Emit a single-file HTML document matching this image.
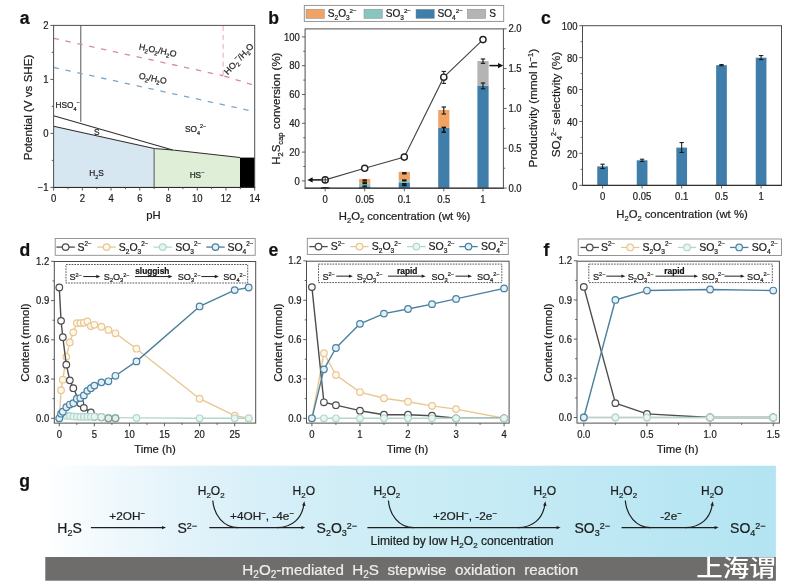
<!DOCTYPE html>
<html lang="en">
<head>
<meta charset="utf-8">
<title>H2O2-mediated H2S stepwise oxidation reaction</title>
<style>
html,body{margin:0;padding:0;background:#fff;}
body{width:786px;height:583px;overflow:hidden;font-family:"Liberation Sans",sans-serif;}
svg{display:block;font-family:"Liberation Sans",sans-serif;}
svg text{stroke:currentColor;stroke-width:0.22px;paint-order:stroke fill;}
.cjk{font-family:"Liberation Sans","Noto Sans CJK SC",sans-serif;}
</style>
</head>
<body>
<svg width="786" height="583" viewBox="0 0 786 583">
<text x="19.70" y="24.10" font-size="17.60" text-anchor="start" font-weight="bold" fill="#111" color="#111"><tspan>a</tspan></text>
<path d="M53.60 126.20 L154.10 148.50 L154.10 187.40 L53.60 187.40 Z" fill="#d7e7f1" stroke="none" stroke-width="1.00"/>
<path d="M154.10 148.50 L172.80 150.00 L240.00 157.60 L240.00 187.40 L154.10 187.40 Z" fill="#dfeed6" stroke="none" stroke-width="1.00"/>
<rect x="240.00" y="157.60" width="14.70" height="29.80" fill="#000" stroke="none" stroke-width="1.00"/>
<path d="M53.60 115.70 L172.80 150.00 L240.00 157.60" fill="none" stroke="#2e2e2e" stroke-width="1.05"/>
<path d="M53.60 126.20 L154.10 148.50 L172.80 150.00" fill="none" stroke="#2e2e2e" stroke-width="1.05"/>
<line x1="154.10" y1="148.50" x2="154.10" y2="187.40" stroke="#555" stroke-width="1.00"/>
<line x1="80.80" y1="25.40" x2="80.80" y2="121.80" stroke="#555" stroke-width="1.00"/>
<line x1="53.60" y1="38.30" x2="223.10" y2="75.75" stroke="#d68c99" stroke-width="1.30" stroke-dasharray="5.4 6.74"/>
<line x1="224.30" y1="76.10" x2="254.70" y2="85.40" stroke="#d68c99" stroke-width="1.30" stroke-dasharray="5.4 6.4"/>
<line x1="53.60" y1="67.40" x2="254.70" y2="111.70" stroke="#7ba6c9" stroke-width="1.30" stroke-dasharray="5.4 6.74"/>
<line x1="223.10" y1="26.00" x2="223.10" y2="76.00" stroke="#e6a9b2" stroke-width="1.00" stroke-dasharray="5 3.9"/>
<rect x="53.60" y="25.40" width="201.10" height="162.00" fill="none" stroke="#4e4e4e" stroke-width="1.00"/>
<line x1="53.10" y1="187.50" x2="255.20" y2="187.50" stroke="#2a2a2a" stroke-width="1.00"/>
<line x1="53.60" y1="187.40" x2="53.60" y2="190.60" stroke="#4e4e4e" stroke-width="0.90"/>
<text transform="translate(53.60 201.50) scale(0.950 1)" font-size="10.00" text-anchor="middle" fill="#1c1c1c" color="#1c1c1c">0</text>
<line x1="67.96" y1="187.40" x2="67.96" y2="189.20" stroke="#4e4e4e" stroke-width="0.90"/>
<line x1="82.33" y1="187.40" x2="82.33" y2="190.60" stroke="#4e4e4e" stroke-width="0.90"/>
<text transform="translate(82.33 201.50) scale(0.950 1)" font-size="10.00" text-anchor="middle" fill="#1c1c1c" color="#1c1c1c">2</text>
<line x1="96.69" y1="187.40" x2="96.69" y2="189.20" stroke="#4e4e4e" stroke-width="0.90"/>
<line x1="111.06" y1="187.40" x2="111.06" y2="190.60" stroke="#4e4e4e" stroke-width="0.90"/>
<text transform="translate(111.06 201.50) scale(0.950 1)" font-size="10.00" text-anchor="middle" fill="#1c1c1c" color="#1c1c1c">4</text>
<line x1="125.42" y1="187.40" x2="125.42" y2="189.20" stroke="#4e4e4e" stroke-width="0.90"/>
<line x1="139.79" y1="187.40" x2="139.79" y2="190.60" stroke="#4e4e4e" stroke-width="0.90"/>
<text transform="translate(139.79 201.50) scale(0.950 1)" font-size="10.00" text-anchor="middle" fill="#1c1c1c" color="#1c1c1c">6</text>
<line x1="154.15" y1="187.40" x2="154.15" y2="189.20" stroke="#4e4e4e" stroke-width="0.90"/>
<line x1="168.51" y1="187.40" x2="168.51" y2="190.60" stroke="#4e4e4e" stroke-width="0.90"/>
<text transform="translate(168.51 201.50) scale(0.950 1)" font-size="10.00" text-anchor="middle" fill="#1c1c1c" color="#1c1c1c">8</text>
<line x1="182.88" y1="187.40" x2="182.88" y2="189.20" stroke="#4e4e4e" stroke-width="0.90"/>
<line x1="197.24" y1="187.40" x2="197.24" y2="190.60" stroke="#4e4e4e" stroke-width="0.90"/>
<text transform="translate(197.24 201.50) scale(0.950 1)" font-size="10.00" text-anchor="middle" fill="#1c1c1c" color="#1c1c1c">10</text>
<line x1="211.61" y1="187.40" x2="211.61" y2="189.20" stroke="#4e4e4e" stroke-width="0.90"/>
<line x1="225.97" y1="187.40" x2="225.97" y2="190.60" stroke="#4e4e4e" stroke-width="0.90"/>
<text transform="translate(225.97 201.50) scale(0.950 1)" font-size="10.00" text-anchor="middle" fill="#1c1c1c" color="#1c1c1c">12</text>
<line x1="240.34" y1="187.40" x2="240.34" y2="189.20" stroke="#4e4e4e" stroke-width="0.90"/>
<line x1="254.70" y1="187.40" x2="254.70" y2="190.60" stroke="#4e4e4e" stroke-width="0.90"/>
<text transform="translate(254.70 201.50) scale(0.950 1)" font-size="10.00" text-anchor="middle" fill="#1c1c1c" color="#1c1c1c">14</text>
<line x1="50.40" y1="187.40" x2="53.60" y2="187.40" stroke="#4e4e4e" stroke-width="0.90"/>
<text transform="translate(48.60 191.00) scale(0.950 1)" font-size="10.00" text-anchor="end" fill="#1c1c1c" color="#1c1c1c">−1</text>
<line x1="51.80" y1="160.40" x2="53.60" y2="160.40" stroke="#4e4e4e" stroke-width="0.90"/>
<line x1="50.40" y1="133.40" x2="53.60" y2="133.40" stroke="#4e4e4e" stroke-width="0.90"/>
<text transform="translate(48.60 137.00) scale(0.950 1)" font-size="10.00" text-anchor="end" fill="#1c1c1c" color="#1c1c1c">0</text>
<line x1="51.80" y1="106.40" x2="53.60" y2="106.40" stroke="#4e4e4e" stroke-width="0.90"/>
<line x1="50.40" y1="79.40" x2="53.60" y2="79.40" stroke="#4e4e4e" stroke-width="0.90"/>
<text transform="translate(48.60 83.00) scale(0.950 1)" font-size="10.00" text-anchor="end" fill="#1c1c1c" color="#1c1c1c">1</text>
<line x1="51.80" y1="52.40" x2="53.60" y2="52.40" stroke="#4e4e4e" stroke-width="0.90"/>
<line x1="50.40" y1="25.40" x2="53.60" y2="25.40" stroke="#4e4e4e" stroke-width="0.90"/>
<text transform="translate(48.60 29.00) scale(0.950 1)" font-size="10.00" text-anchor="end" fill="#1c1c1c" color="#1c1c1c">2</text>
<text x="153.50" y="218.60" font-size="11.30" text-anchor="middle" font-weight="normal" fill="#1c1c1c" color="#1c1c1c"><tspan>pH</tspan></text>
<text x="32.00" y="107.50" font-size="11.60" text-anchor="middle" font-weight="normal" fill="#1c1c1c" color="#1c1c1c" transform="rotate(-90.00 32.00 107.50)"><tspan>Potential (V vs SHE)</tspan></text>
<text x="157.30" y="53.30" font-size="8.70" text-anchor="middle" font-weight="normal" fill="#222" color="#222" transform="rotate(11.50 157.30 53.30)"><tspan>H</tspan><tspan dy="2.26" font-size="5.74">2</tspan><tspan dy="-2.26">O</tspan><tspan dy="2.26" font-size="5.74">2</tspan><tspan dy="-2.26">/H</tspan><tspan dy="2.26" font-size="5.74">2</tspan><tspan dy="-2.26">O</tspan></text>
<text x="152.30" y="81.30" font-size="8.60" text-anchor="middle" font-weight="normal" fill="#222" color="#222" transform="rotate(11.50 152.30 81.30)"><tspan>O</tspan><tspan dy="2.24" font-size="5.68">2</tspan><tspan dy="-2.24">/H</tspan><tspan dy="2.24" font-size="5.68">2</tspan><tspan dy="-2.24">O</tspan></text>
<text x="241.00" y="61.00" font-size="8.80" text-anchor="middle" font-weight="normal" fill="#222" color="#222" transform="rotate(-47.00 241.00 61.00)"><tspan>HO</tspan><tspan dy="2.29" font-size="5.81">2</tspan><tspan dy="-6.34" font-size="5.81">−</tspan><tspan dy="4.05">/H</tspan><tspan dy="2.29" font-size="5.81">2</tspan><tspan dy="-2.29">O</tspan></text>
<text x="55.50" y="108.00" font-size="8.30" text-anchor="start" font-weight="normal" fill="#222" color="#222"><tspan>HSO</tspan><tspan dy="2.66" font-size="5.48">4</tspan><tspan dy="-6.47" font-size="5.48">−</tspan></text>
<text x="96.80" y="135.20" font-size="8.30" text-anchor="middle" font-weight="normal" fill="#222" color="#222"><tspan>S</tspan></text>
<text x="185.00" y="132.00" font-size="8.30" text-anchor="start" font-weight="normal" fill="#222" color="#222"><tspan>SO</tspan><tspan dy="2.66" font-size="5.48">4</tspan><tspan dy="-6.47" font-size="5.48">2−</tspan></text>
<text x="96.50" y="176.00" font-size="8.30" text-anchor="middle" font-weight="normal" fill="#222" color="#222"><tspan>H</tspan><tspan dy="2.66" font-size="5.48">2</tspan><tspan dy="-2.66">S</tspan></text>
<text x="197.00" y="177.50" font-size="8.30" text-anchor="middle" font-weight="normal" fill="#222" color="#222"><tspan>HS</tspan><tspan dy="-3.82" font-size="5.48">−</tspan></text>
<text x="268.30" y="24.30" font-size="17.60" text-anchor="start" font-weight="bold" fill="#111" color="#111"><tspan>b</tspan></text>
<rect x="304.30" y="5.40" width="199.40" height="16.00" fill="#fff" stroke="#8a8a8a" stroke-width="0.90"/>
<rect x="306.00" y="9.30" width="18.30" height="9.10" fill="#f1a365" stroke="#8a8a8a" stroke-width="0.50"/>
<text x="327.80" y="17.30" font-size="10.10" text-anchor="start" font-weight="normal" fill="#1c1c1c" color="#1c1c1c"><tspan>S</tspan><tspan dy="3.03" font-size="6.46">2</tspan><tspan dy="-3.03">O</tspan><tspan dy="3.03" font-size="6.46">3</tspan><tspan dy="-7.37" font-size="6.26">2−</tspan></text>
<rect x="364.00" y="9.30" width="18.30" height="9.10" fill="#86c6bf" stroke="#8a8a8a" stroke-width="0.50"/>
<text x="385.70" y="17.30" font-size="10.10" text-anchor="start" font-weight="normal" fill="#1c1c1c" color="#1c1c1c"><tspan>SO</tspan><tspan dy="3.03" font-size="6.46">3</tspan><tspan dy="-7.37" font-size="6.26">2−</tspan></text>
<rect x="416.00" y="9.30" width="18.30" height="9.10" fill="#3f7dab" stroke="#8a8a8a" stroke-width="0.50"/>
<text x="437.50" y="17.30" font-size="10.10" text-anchor="start" font-weight="normal" fill="#1c1c1c" color="#1c1c1c"><tspan>SO</tspan><tspan dy="3.03" font-size="6.46">4</tspan><tspan dy="-7.37" font-size="6.26">2−</tspan></text>
<rect x="467.40" y="9.30" width="18.30" height="9.10" fill="#b4b4b4" stroke="#8a8a8a" stroke-width="0.50"/>
<text x="489.30" y="17.30" font-size="10.10" text-anchor="start" font-weight="normal" fill="#1c1c1c" color="#1c1c1c"><tspan>S</tspan></text>
<rect x="359.10" y="186.40" width="11.20" height="1.70" fill="#3f7dab" stroke="none" stroke-width="1.00"/>
<rect x="359.10" y="183.30" width="11.20" height="3.10" fill="#86c6bf" stroke="none" stroke-width="1.00"/>
<rect x="359.10" y="178.90" width="11.20" height="4.40" fill="#f1a365" stroke="none" stroke-width="1.00"/>
<rect x="398.70" y="183.00" width="11.20" height="5.10" fill="#3f7dab" stroke="none" stroke-width="1.00"/>
<rect x="398.70" y="180.50" width="11.20" height="2.50" fill="#86c6bf" stroke="none" stroke-width="1.00"/>
<rect x="398.70" y="171.80" width="11.20" height="8.70" fill="#f1a365" stroke="none" stroke-width="1.00"/>
<rect x="438.20" y="127.80" width="11.20" height="60.30" fill="#3f7dab" stroke="none" stroke-width="1.00"/>
<rect x="438.20" y="110.00" width="11.20" height="17.80" fill="#f1a365" stroke="none" stroke-width="1.00"/>
<rect x="477.40" y="85.60" width="11.20" height="102.50" fill="#3f7dab" stroke="none" stroke-width="1.00"/>
<rect x="477.40" y="61.00" width="11.20" height="24.60" fill="#b4b4b4" stroke="none" stroke-width="1.00"/>
<ellipse cx="325.20" cy="188.00" rx="4.6" ry="1.1" fill="#111"/>
<line x1="364.70" y1="180.00" x2="364.70" y2="181.00" stroke="#111" stroke-width="1.30"/>
<line x1="362.50" y1="180.00" x2="366.90" y2="180.00" stroke="#111" stroke-width="1.30"/>
<line x1="362.50" y1="181.00" x2="366.90" y2="181.00" stroke="#111" stroke-width="1.30"/>
<line x1="364.70" y1="182.80" x2="364.70" y2="183.60" stroke="#111" stroke-width="1.30"/>
<line x1="362.50" y1="182.80" x2="366.90" y2="182.80" stroke="#111" stroke-width="1.30"/>
<line x1="362.50" y1="183.60" x2="366.90" y2="183.60" stroke="#111" stroke-width="1.30"/>
<line x1="364.70" y1="186.00" x2="364.70" y2="187.00" stroke="#111" stroke-width="1.20"/>
<line x1="362.50" y1="186.00" x2="366.90" y2="186.00" stroke="#111" stroke-width="1.20"/>
<line x1="362.50" y1="187.00" x2="366.90" y2="187.00" stroke="#111" stroke-width="1.20"/>
<line x1="404.30" y1="172.80" x2="404.30" y2="173.80" stroke="#111" stroke-width="1.30"/>
<line x1="402.10" y1="172.80" x2="406.50" y2="172.80" stroke="#111" stroke-width="1.30"/>
<line x1="402.10" y1="173.80" x2="406.50" y2="173.80" stroke="#111" stroke-width="1.30"/>
<line x1="404.30" y1="180.00" x2="404.30" y2="180.80" stroke="#111" stroke-width="1.30"/>
<line x1="402.10" y1="180.00" x2="406.50" y2="180.00" stroke="#111" stroke-width="1.30"/>
<line x1="402.10" y1="180.80" x2="406.50" y2="180.80" stroke="#111" stroke-width="1.30"/>
<line x1="404.30" y1="183.80" x2="404.30" y2="185.40" stroke="#111" stroke-width="1.60"/>
<line x1="402.10" y1="183.80" x2="406.50" y2="183.80" stroke="#111" stroke-width="1.60"/>
<line x1="402.10" y1="185.40" x2="406.50" y2="185.40" stroke="#111" stroke-width="1.60"/>
<line x1="443.80" y1="107.00" x2="443.80" y2="114.00" stroke="#111" stroke-width="1.10"/>
<line x1="441.60" y1="107.00" x2="446.00" y2="107.00" stroke="#111" stroke-width="1.10"/>
<line x1="441.60" y1="114.00" x2="446.00" y2="114.00" stroke="#111" stroke-width="1.10"/>
<line x1="443.80" y1="127.40" x2="443.80" y2="132.20" stroke="#111" stroke-width="1.50"/>
<line x1="441.60" y1="127.40" x2="446.00" y2="127.40" stroke="#111" stroke-width="1.50"/>
<line x1="441.60" y1="132.20" x2="446.00" y2="132.20" stroke="#111" stroke-width="1.50"/>
<line x1="483.00" y1="59.00" x2="483.00" y2="63.30" stroke="#111" stroke-width="1.10"/>
<line x1="480.80" y1="59.00" x2="485.20" y2="59.00" stroke="#111" stroke-width="1.10"/>
<line x1="480.80" y1="63.30" x2="485.20" y2="63.30" stroke="#111" stroke-width="1.10"/>
<line x1="483.00" y1="83.00" x2="483.00" y2="88.80" stroke="#111" stroke-width="1.10"/>
<line x1="480.80" y1="83.00" x2="485.20" y2="83.00" stroke="#111" stroke-width="1.10"/>
<line x1="480.80" y1="88.80" x2="485.20" y2="88.80" stroke="#111" stroke-width="1.10"/>
<path d="M325.20 179.90 L364.70 168.30 L404.30 157.10 L443.80 77.20 L483.00 39.60" fill="none" stroke="#444" stroke-width="1.10"/>
<line x1="443.80" y1="71.40" x2="443.80" y2="83.40" stroke="#111" stroke-width="1.00"/>
<line x1="441.60" y1="71.40" x2="446.00" y2="71.40" stroke="#111" stroke-width="1.00"/>
<line x1="441.60" y1="83.40" x2="446.00" y2="83.40" stroke="#111" stroke-width="1.00"/>
<line x1="483.00" y1="37.60" x2="483.00" y2="41.60" stroke="#111" stroke-width="1.00"/>
<line x1="480.80" y1="37.60" x2="485.20" y2="37.60" stroke="#111" stroke-width="1.00"/>
<line x1="480.80" y1="41.60" x2="485.20" y2="41.60" stroke="#111" stroke-width="1.00"/>
<circle cx="325.20" cy="179.90" r="3.10" fill="#fff" stroke="#222" stroke-width="1.40"/>
<circle cx="364.70" cy="168.30" r="3.10" fill="#fff" stroke="#222" stroke-width="1.40"/>
<circle cx="404.30" cy="157.10" r="3.10" fill="#fff" stroke="#222" stroke-width="1.40"/>
<circle cx="443.80" cy="77.20" r="3.10" fill="#fff" stroke="#222" stroke-width="1.40"/>
<circle cx="483.00" cy="39.60" r="3.10" fill="#fff" stroke="#222" stroke-width="1.40"/>
<line x1="322.20" y1="179.90" x2="328.20" y2="179.90" stroke="#222" stroke-width="0.90"/>
<line x1="325.20" y1="177.00" x2="325.20" y2="183.00" stroke="#222" stroke-width="0.90"/>
<line x1="311.50" y1="179.90" x2="321.70" y2="179.90" stroke="#111" stroke-width="1.50"/>
<path d="M307.40 179.90 L312.60 177.20 L312.60 182.60 Z" fill="#111" stroke="none" stroke-width="1.00"/>
<line x1="489.40" y1="65.60" x2="499.40" y2="65.60" stroke="#111" stroke-width="1.50"/>
<path d="M503.20 65.60 L498.00 62.90 L498.00 68.30 Z" fill="#111" stroke="none" stroke-width="1.00"/>
<rect x="305.10" y="28.90" width="198.30" height="159.20" fill="none" stroke="#4e4e4e" stroke-width="1.00"/>
<line x1="304.60" y1="188.20" x2="503.90" y2="188.20" stroke="#2a2a2a" stroke-width="1.00"/>
<line x1="301.90" y1="180.90" x2="305.10" y2="180.90" stroke="#4e4e4e" stroke-width="0.90"/>
<text transform="translate(299.90 184.50) scale(0.950 1)" font-size="10.00" text-anchor="end" fill="#1c1c1c" color="#1c1c1c">0</text>
<line x1="303.30" y1="166.50" x2="305.10" y2="166.50" stroke="#4e4e4e" stroke-width="0.90"/>
<line x1="301.90" y1="152.10" x2="305.10" y2="152.10" stroke="#4e4e4e" stroke-width="0.90"/>
<text transform="translate(299.90 155.70) scale(0.950 1)" font-size="10.00" text-anchor="end" fill="#1c1c1c" color="#1c1c1c">20</text>
<line x1="303.30" y1="137.70" x2="305.10" y2="137.70" stroke="#4e4e4e" stroke-width="0.90"/>
<line x1="301.90" y1="123.30" x2="305.10" y2="123.30" stroke="#4e4e4e" stroke-width="0.90"/>
<text transform="translate(299.90 126.90) scale(0.950 1)" font-size="10.00" text-anchor="end" fill="#1c1c1c" color="#1c1c1c">40</text>
<line x1="303.30" y1="108.90" x2="305.10" y2="108.90" stroke="#4e4e4e" stroke-width="0.90"/>
<line x1="301.90" y1="94.50" x2="305.10" y2="94.50" stroke="#4e4e4e" stroke-width="0.90"/>
<text transform="translate(299.90 98.10) scale(0.950 1)" font-size="10.00" text-anchor="end" fill="#1c1c1c" color="#1c1c1c">60</text>
<line x1="303.30" y1="80.10" x2="305.10" y2="80.10" stroke="#4e4e4e" stroke-width="0.90"/>
<line x1="301.90" y1="65.70" x2="305.10" y2="65.70" stroke="#4e4e4e" stroke-width="0.90"/>
<text transform="translate(299.90 69.30) scale(0.950 1)" font-size="10.00" text-anchor="end" fill="#1c1c1c" color="#1c1c1c">80</text>
<line x1="303.30" y1="51.30" x2="305.10" y2="51.30" stroke="#4e4e4e" stroke-width="0.90"/>
<line x1="301.90" y1="36.90" x2="305.10" y2="36.90" stroke="#4e4e4e" stroke-width="0.90"/>
<text transform="translate(299.90 40.50) scale(0.950 1)" font-size="10.00" text-anchor="end" fill="#1c1c1c" color="#1c1c1c">100</text>
<line x1="503.40" y1="188.10" x2="506.60" y2="188.10" stroke="#4e4e4e" stroke-width="0.90"/>
<text transform="translate(508.40 191.70) scale(0.950 1)" font-size="10.00" text-anchor="start" fill="#1c1c1c" color="#1c1c1c">0.0</text>
<line x1="503.40" y1="168.19" x2="505.20" y2="168.19" stroke="#4e4e4e" stroke-width="0.90"/>
<line x1="503.40" y1="148.27" x2="506.60" y2="148.27" stroke="#4e4e4e" stroke-width="0.90"/>
<text transform="translate(508.40 151.87) scale(0.950 1)" font-size="10.00" text-anchor="start" fill="#1c1c1c" color="#1c1c1c">0.5</text>
<line x1="503.40" y1="128.36" x2="505.20" y2="128.36" stroke="#4e4e4e" stroke-width="0.90"/>
<line x1="503.40" y1="108.45" x2="506.60" y2="108.45" stroke="#4e4e4e" stroke-width="0.90"/>
<text transform="translate(508.40 112.05) scale(0.950 1)" font-size="10.00" text-anchor="start" fill="#1c1c1c" color="#1c1c1c">1.0</text>
<line x1="503.40" y1="88.54" x2="505.20" y2="88.54" stroke="#4e4e4e" stroke-width="0.90"/>
<line x1="503.40" y1="68.62" x2="506.60" y2="68.62" stroke="#4e4e4e" stroke-width="0.90"/>
<text transform="translate(508.40 72.22) scale(0.950 1)" font-size="10.00" text-anchor="start" fill="#1c1c1c" color="#1c1c1c">1.5</text>
<line x1="503.40" y1="48.71" x2="505.20" y2="48.71" stroke="#4e4e4e" stroke-width="0.90"/>
<line x1="503.40" y1="28.80" x2="506.60" y2="28.80" stroke="#4e4e4e" stroke-width="0.90"/>
<text transform="translate(508.40 32.40) scale(0.950 1)" font-size="10.00" text-anchor="start" fill="#1c1c1c" color="#1c1c1c">2.0</text>
<line x1="325.20" y1="188.10" x2="325.20" y2="191.30" stroke="#4e4e4e" stroke-width="0.90"/>
<text transform="translate(325.20 202.70) scale(0.950 1)" font-size="10.00" text-anchor="middle" fill="#1c1c1c" color="#1c1c1c">0</text>
<line x1="364.70" y1="188.10" x2="364.70" y2="191.30" stroke="#4e4e4e" stroke-width="0.90"/>
<text transform="translate(364.70 202.70) scale(0.950 1)" font-size="10.00" text-anchor="middle" fill="#1c1c1c" color="#1c1c1c">0.05</text>
<line x1="404.30" y1="188.10" x2="404.30" y2="191.30" stroke="#4e4e4e" stroke-width="0.90"/>
<text transform="translate(404.30 202.70) scale(0.950 1)" font-size="10.00" text-anchor="middle" fill="#1c1c1c" color="#1c1c1c">0.1</text>
<line x1="443.80" y1="188.10" x2="443.80" y2="191.30" stroke="#4e4e4e" stroke-width="0.90"/>
<text transform="translate(443.80 202.70) scale(0.950 1)" font-size="10.00" text-anchor="middle" fill="#1c1c1c" color="#1c1c1c">0.5</text>
<line x1="483.00" y1="188.10" x2="483.00" y2="191.30" stroke="#4e4e4e" stroke-width="0.90"/>
<text transform="translate(483.00 202.70) scale(0.950 1)" font-size="10.00" text-anchor="middle" fill="#1c1c1c" color="#1c1c1c">1</text>
<text x="404.50" y="219.60" font-size="11.30" text-anchor="middle" font-weight="normal" fill="#1c1c1c" color="#1c1c1c"><tspan>H</tspan><tspan dy="3.62" font-size="7.46">2</tspan><tspan dy="-3.62">O</tspan><tspan dy="3.62" font-size="7.46">2</tspan><tspan dy="-3.62"> concentration (wt %)</tspan></text>
<text x="280.10" y="108.70" font-size="11.50" text-anchor="middle" font-weight="normal" fill="#1c1c1c" color="#1c1c1c" transform="rotate(-90.00 280.10 108.70)"><tspan>H</tspan><tspan dy="2.53" font-size="7.59">2</tspan><tspan dy="-2.53">S</tspan><tspan dy="2.53" font-size="7.59">cap</tspan><tspan dy="-2.53"> conversion (%)</tspan></text>
<text x="537.50" y="108.10" font-size="11.70" text-anchor="middle" font-weight="normal" fill="#1c1c1c" color="#1c1c1c" transform="rotate(-90.00 537.50 108.10)"><tspan>Productivity (mmol h</tspan><tspan dy="-4.21" font-size="7.72">−1</tspan><tspan dy="4.21">)</tspan></text>
<text x="541.00" y="24.10" font-size="17.60" text-anchor="start" font-weight="bold" fill="#111" color="#111"><tspan>c</tspan></text>
<rect x="597.25" y="166.40" width="10.70" height="18.90" fill="#3f7dab" stroke="none" stroke-width="1.00"/>
<line x1="602.60" y1="164.20" x2="602.60" y2="168.60" stroke="#111" stroke-width="1.00"/>
<line x1="600.40" y1="164.20" x2="604.80" y2="164.20" stroke="#111" stroke-width="1.00"/>
<line x1="600.40" y1="168.60" x2="604.80" y2="168.60" stroke="#111" stroke-width="1.00"/>
<rect x="636.75" y="160.30" width="10.70" height="25.00" fill="#3f7dab" stroke="none" stroke-width="1.00"/>
<line x1="642.10" y1="159.20" x2="642.10" y2="161.40" stroke="#111" stroke-width="1.00"/>
<line x1="639.90" y1="159.20" x2="644.30" y2="159.20" stroke="#111" stroke-width="1.00"/>
<line x1="639.90" y1="161.40" x2="644.30" y2="161.40" stroke="#111" stroke-width="1.00"/>
<rect x="676.35" y="147.60" width="10.70" height="37.70" fill="#3f7dab" stroke="none" stroke-width="1.00"/>
<line x1="681.70" y1="142.60" x2="681.70" y2="152.40" stroke="#111" stroke-width="1.00"/>
<line x1="679.50" y1="142.60" x2="683.90" y2="142.60" stroke="#111" stroke-width="1.00"/>
<line x1="679.50" y1="152.40" x2="683.90" y2="152.40" stroke="#111" stroke-width="1.00"/>
<rect x="716.15" y="65.20" width="10.70" height="120.10" fill="#3f7dab" stroke="none" stroke-width="1.00"/>
<line x1="721.50" y1="64.60" x2="721.50" y2="65.80" stroke="#111" stroke-width="1.00"/>
<line x1="719.30" y1="64.60" x2="723.70" y2="64.60" stroke="#111" stroke-width="1.00"/>
<line x1="719.30" y1="65.80" x2="723.70" y2="65.80" stroke="#111" stroke-width="1.00"/>
<rect x="755.75" y="57.70" width="10.70" height="127.60" fill="#3f7dab" stroke="none" stroke-width="1.00"/>
<line x1="761.10" y1="55.60" x2="761.10" y2="59.60" stroke="#111" stroke-width="1.00"/>
<line x1="758.90" y1="55.60" x2="763.30" y2="55.60" stroke="#111" stroke-width="1.00"/>
<line x1="758.90" y1="59.60" x2="763.30" y2="59.60" stroke="#111" stroke-width="1.00"/>
<rect x="582.50" y="25.70" width="199.00" height="159.60" fill="none" stroke="#4e4e4e" stroke-width="1.00"/>
<line x1="582.00" y1="185.40" x2="782.00" y2="185.40" stroke="#2a2a2a" stroke-width="1.00"/>
<line x1="579.30" y1="185.30" x2="582.50" y2="185.30" stroke="#4e4e4e" stroke-width="0.90"/>
<text transform="translate(577.50 189.50) scale(0.950 1)" font-size="10.00" text-anchor="end" fill="#1c1c1c" color="#1c1c1c">0</text>
<line x1="580.70" y1="169.34" x2="582.50" y2="169.34" stroke="#4e4e4e" stroke-width="0.90"/>
<line x1="579.30" y1="153.38" x2="582.50" y2="153.38" stroke="#4e4e4e" stroke-width="0.90"/>
<text transform="translate(577.50 157.58) scale(0.950 1)" font-size="10.00" text-anchor="end" fill="#1c1c1c" color="#1c1c1c">20</text>
<line x1="580.70" y1="137.42" x2="582.50" y2="137.42" stroke="#4e4e4e" stroke-width="0.90"/>
<line x1="579.30" y1="121.46" x2="582.50" y2="121.46" stroke="#4e4e4e" stroke-width="0.90"/>
<text transform="translate(577.50 125.66) scale(0.950 1)" font-size="10.00" text-anchor="end" fill="#1c1c1c" color="#1c1c1c">40</text>
<line x1="580.70" y1="105.50" x2="582.50" y2="105.50" stroke="#4e4e4e" stroke-width="0.90"/>
<line x1="579.30" y1="89.54" x2="582.50" y2="89.54" stroke="#4e4e4e" stroke-width="0.90"/>
<text transform="translate(577.50 93.74) scale(0.950 1)" font-size="10.00" text-anchor="end" fill="#1c1c1c" color="#1c1c1c">60</text>
<line x1="580.70" y1="73.58" x2="582.50" y2="73.58" stroke="#4e4e4e" stroke-width="0.90"/>
<line x1="579.30" y1="57.62" x2="582.50" y2="57.62" stroke="#4e4e4e" stroke-width="0.90"/>
<text transform="translate(577.50 61.82) scale(0.950 1)" font-size="10.00" text-anchor="end" fill="#1c1c1c" color="#1c1c1c">80</text>
<line x1="580.70" y1="41.66" x2="582.50" y2="41.66" stroke="#4e4e4e" stroke-width="0.90"/>
<line x1="579.30" y1="25.70" x2="582.50" y2="25.70" stroke="#4e4e4e" stroke-width="0.90"/>
<text transform="translate(577.50 29.90) scale(0.950 1)" font-size="10.00" text-anchor="end" fill="#1c1c1c" color="#1c1c1c">100</text>
<line x1="602.60" y1="185.30" x2="602.60" y2="188.50" stroke="#4e4e4e" stroke-width="0.90"/>
<text transform="translate(602.60 200.30) scale(0.950 1)" font-size="10.00" text-anchor="middle" fill="#1c1c1c" color="#1c1c1c">0</text>
<line x1="642.10" y1="185.30" x2="642.10" y2="188.50" stroke="#4e4e4e" stroke-width="0.90"/>
<text transform="translate(642.10 200.30) scale(0.950 1)" font-size="10.00" text-anchor="middle" fill="#1c1c1c" color="#1c1c1c">0.05</text>
<line x1="681.70" y1="185.30" x2="681.70" y2="188.50" stroke="#4e4e4e" stroke-width="0.90"/>
<text transform="translate(681.70 200.30) scale(0.950 1)" font-size="10.00" text-anchor="middle" fill="#1c1c1c" color="#1c1c1c">0.1</text>
<line x1="721.50" y1="185.30" x2="721.50" y2="188.50" stroke="#4e4e4e" stroke-width="0.90"/>
<text transform="translate(721.50 200.30) scale(0.950 1)" font-size="10.00" text-anchor="middle" fill="#1c1c1c" color="#1c1c1c">0.5</text>
<line x1="761.10" y1="185.30" x2="761.10" y2="188.50" stroke="#4e4e4e" stroke-width="0.90"/>
<text transform="translate(761.10 200.30) scale(0.950 1)" font-size="10.00" text-anchor="middle" fill="#1c1c1c" color="#1c1c1c">1</text>
<text x="682.00" y="217.50" font-size="11.30" text-anchor="middle" font-weight="normal" fill="#1c1c1c" color="#1c1c1c"><tspan>H</tspan><tspan dy="3.62" font-size="7.46">2</tspan><tspan dy="-3.62">O</tspan><tspan dy="3.62" font-size="7.46">2</tspan><tspan dy="-3.62"> concentration (wt %)</tspan></text>
<text x="559.60" y="104.60" font-size="11.80" text-anchor="middle" font-weight="normal" fill="#1c1c1c" color="#1c1c1c" transform="rotate(-90.00 559.60 104.60)"><tspan>SO</tspan><tspan dy="2.60" font-size="7.79">4</tspan><tspan dy="-6.61" font-size="7.08">2−</tspan><tspan dy="4.01"> selectivity (%)</tspan></text>
<text x="19.50" y="256.30" font-size="17.60" text-anchor="start" font-weight="bold" fill="#111" color="#111"><tspan>d</tspan></text>
<rect x="55.20" y="238.50" width="200.00" height="16.80" fill="#fff" stroke="#8a8a8a" stroke-width="0.90"/>
<line x1="56.40" y1="247.10" x2="74.80" y2="247.10" stroke="#4d4d4d" stroke-width="1.30"/>
<circle cx="65.60" cy="247.10" r="3.30" fill="#fbfbfb" stroke="#4d4d4d" stroke-width="1.20"/>
<text x="77.50" y="250.50" font-size="10.50" text-anchor="start" font-weight="normal" fill="#1c1c1c" color="#1c1c1c"><tspan>S</tspan><tspan dy="-4.41" font-size="6.30">2−</tspan></text>
<line x1="97.40" y1="247.10" x2="115.80" y2="247.10" stroke="#e9c792" stroke-width="1.30"/>
<circle cx="106.60" cy="247.10" r="3.30" fill="#fef7ec" stroke="#e9c792" stroke-width="1.20"/>
<text x="118.70" y="250.50" font-size="10.50" text-anchor="start" font-weight="normal" fill="#1c1c1c" color="#1c1c1c"><tspan>S</tspan><tspan dy="3.15" font-size="6.62">2</tspan><tspan dy="-3.15">O</tspan><tspan dy="3.15" font-size="6.62">3</tspan><tspan dy="-7.56" font-size="6.30">2−</tspan></text>
<line x1="153.50" y1="247.10" x2="171.90" y2="247.10" stroke="#b2d7d0" stroke-width="1.30"/>
<circle cx="162.70" cy="247.10" r="3.30" fill="#e9f5f1" stroke="#b2d7d0" stroke-width="1.20"/>
<text x="175.20" y="250.50" font-size="10.50" text-anchor="start" font-weight="normal" fill="#1c1c1c" color="#1c1c1c"><tspan>SO</tspan><tspan dy="3.15" font-size="6.62">3</tspan><tspan dy="-7.56" font-size="6.30">2−</tspan></text>
<line x1="206.30" y1="247.10" x2="224.70" y2="247.10" stroke="#4b809f" stroke-width="1.30"/>
<circle cx="215.50" cy="247.10" r="3.30" fill="#e2f1f8" stroke="#4b809f" stroke-width="1.20"/>
<text x="227.40" y="250.50" font-size="10.50" text-anchor="start" font-weight="normal" fill="#1c1c1c" color="#1c1c1c"><tspan>SO</tspan><tspan dy="3.15" font-size="6.62">4</tspan><tspan dy="-7.56" font-size="6.30">2−</tspan></text>
<rect x="54.30" y="261.50" width="201.40" height="161.60" fill="#fff" stroke="#4e4e4e" stroke-width="1.00"/>
<rect x="66.00" y="264.50" width="181.70" height="18.50" fill="none" stroke="#3a3a3a" stroke-width="0.85" stroke-dasharray="1.7 1.1"/>
<text x="69.40" y="280.00" font-size="9.10" text-anchor="start" font-weight="normal" fill="#1c1c1c" color="#1c1c1c"><tspan>S</tspan><tspan dy="-3.37" font-size="5.64">2−</tspan></text>
<line x1="83.30" y1="276.55" x2="96.80" y2="276.55" stroke="#222" stroke-width="1.00"/>
<path d="M100.30 276.55 L96.30 274.85 L96.30 278.25 Z" fill="#222" stroke="none" stroke-width="1.00"/>
<text x="103.80" y="280.00" font-size="9.10" text-anchor="start" font-weight="normal" fill="#1c1c1c" color="#1c1c1c"><tspan>S</tspan><tspan dy="2.00" font-size="5.64">2</tspan><tspan dy="-2.00">O</tspan><tspan dy="2.00" font-size="5.64">3</tspan><tspan dy="-5.37" font-size="5.64">2−</tspan></text>
<line x1="135.00" y1="276.55" x2="168.90" y2="276.55" stroke="#222" stroke-width="1.00"/>
<path d="M172.40 276.55 L168.40 274.85 L168.40 278.25 Z" fill="#222" stroke="none" stroke-width="1.00"/>
<text x="152.30" y="274.15" font-size="8.30" text-anchor="middle" font-weight="bold" fill="#111" color="#111"><tspan>sluggish</tspan></text>
<text x="177.80" y="280.00" font-size="9.10" text-anchor="start" font-weight="normal" fill="#1c1c1c" color="#1c1c1c"><tspan>SO</tspan><tspan dy="2.00" font-size="5.64">3</tspan><tspan dy="-5.37" font-size="5.64">2−</tspan></text>
<line x1="201.30" y1="276.55" x2="215.30" y2="276.55" stroke="#222" stroke-width="1.00"/>
<path d="M218.80 276.55 L214.80 274.85 L214.80 278.25 Z" fill="#222" stroke="none" stroke-width="1.00"/>
<text x="223.30" y="280.00" font-size="9.10" text-anchor="start" font-weight="normal" fill="#1c1c1c" color="#1c1c1c"><tspan>SO</tspan><tspan dy="2.00" font-size="5.64">4</tspan><tspan dy="-5.37" font-size="5.64">2−</tspan></text>
<path d="M59.30 418.30 L61.05 390.18 L62.81 379.71 L66.31 356.82 L69.82 342.44 L73.33 332.36 L76.84 323.08 L80.34 323.08 L83.85 322.82 L87.36 321.51 L90.87 326.09 L94.38 324.78 L101.39 326.74 L108.41 329.88 L115.42 333.28 L136.46 348.71 L199.60 398.68 L234.68 415.68 L248.70 418.30" fill="none" stroke="#e9c792" stroke-width="1.40" stroke-linejoin="round"/>
<circle cx="59.30" cy="418.30" r="3.30" fill="#fef7ec" stroke="#e9c792" stroke-width="1.20"/>
<circle cx="61.05" cy="390.18" r="3.30" fill="#fef7ec" stroke="#e9c792" stroke-width="1.20"/>
<circle cx="62.81" cy="379.71" r="3.30" fill="#fef7ec" stroke="#e9c792" stroke-width="1.20"/>
<circle cx="66.31" cy="356.82" r="3.30" fill="#fef7ec" stroke="#e9c792" stroke-width="1.20"/>
<circle cx="69.82" cy="342.44" r="3.30" fill="#fef7ec" stroke="#e9c792" stroke-width="1.20"/>
<circle cx="73.33" cy="332.36" r="3.30" fill="#fef7ec" stroke="#e9c792" stroke-width="1.20"/>
<circle cx="76.84" cy="323.08" r="3.30" fill="#fef7ec" stroke="#e9c792" stroke-width="1.20"/>
<circle cx="80.34" cy="323.08" r="3.30" fill="#fef7ec" stroke="#e9c792" stroke-width="1.20"/>
<circle cx="83.85" cy="322.82" r="3.30" fill="#fef7ec" stroke="#e9c792" stroke-width="1.20"/>
<circle cx="87.36" cy="321.51" r="3.30" fill="#fef7ec" stroke="#e9c792" stroke-width="1.20"/>
<circle cx="90.87" cy="326.09" r="3.30" fill="#fef7ec" stroke="#e9c792" stroke-width="1.20"/>
<circle cx="94.38" cy="324.78" r="3.30" fill="#fef7ec" stroke="#e9c792" stroke-width="1.20"/>
<circle cx="101.39" cy="326.74" r="3.30" fill="#fef7ec" stroke="#e9c792" stroke-width="1.20"/>
<circle cx="108.41" cy="329.88" r="3.30" fill="#fef7ec" stroke="#e9c792" stroke-width="1.20"/>
<circle cx="115.42" cy="333.28" r="3.30" fill="#fef7ec" stroke="#e9c792" stroke-width="1.20"/>
<circle cx="136.46" cy="348.71" r="3.30" fill="#fef7ec" stroke="#e9c792" stroke-width="1.20"/>
<circle cx="199.60" cy="398.68" r="3.30" fill="#fef7ec" stroke="#e9c792" stroke-width="1.20"/>
<circle cx="234.68" cy="415.68" r="3.30" fill="#fef7ec" stroke="#e9c792" stroke-width="1.20"/>
<circle cx="248.70" cy="418.30" r="3.30" fill="#fef7ec" stroke="#e9c792" stroke-width="1.20"/>
<path d="M59.30 287.50 L61.05 320.85 L62.81 337.20 L66.31 364.67 L69.82 380.37 L73.33 388.22 L80.34 403.26 L83.85 407.84 L90.87 412.41 L94.38 416.73 L101.39 417.25 L108.41 418.30 L115.42 418.30" fill="none" stroke="#4d4d4d" stroke-width="1.40" stroke-linejoin="round"/>
<circle cx="59.30" cy="287.50" r="3.30" fill="#fbfbfb" stroke="#4d4d4d" stroke-width="1.20"/>
<circle cx="61.05" cy="320.85" r="3.30" fill="#fbfbfb" stroke="#4d4d4d" stroke-width="1.20"/>
<circle cx="62.81" cy="337.20" r="3.30" fill="#fbfbfb" stroke="#4d4d4d" stroke-width="1.20"/>
<circle cx="66.31" cy="364.67" r="3.30" fill="#fbfbfb" stroke="#4d4d4d" stroke-width="1.20"/>
<circle cx="69.82" cy="380.37" r="3.30" fill="#fbfbfb" stroke="#4d4d4d" stroke-width="1.20"/>
<circle cx="73.33" cy="388.22" r="3.30" fill="#fbfbfb" stroke="#4d4d4d" stroke-width="1.20"/>
<circle cx="80.34" cy="403.26" r="3.30" fill="#fbfbfb" stroke="#4d4d4d" stroke-width="1.20"/>
<circle cx="83.85" cy="407.84" r="3.30" fill="#fbfbfb" stroke="#4d4d4d" stroke-width="1.20"/>
<circle cx="90.87" cy="412.41" r="3.30" fill="#fbfbfb" stroke="#4d4d4d" stroke-width="1.20"/>
<circle cx="94.38" cy="416.73" r="3.30" fill="#fbfbfb" stroke="#4d4d4d" stroke-width="1.20"/>
<circle cx="101.39" cy="417.25" r="3.30" fill="#fbfbfb" stroke="#4d4d4d" stroke-width="1.20"/>
<circle cx="108.41" cy="418.30" r="3.30" fill="#fbfbfb" stroke="#4d4d4d" stroke-width="1.20"/>
<circle cx="115.42" cy="418.30" r="3.30" fill="#fbfbfb" stroke="#4d4d4d" stroke-width="1.20"/>
<path d="M59.30 418.30 L66.31 415.68 L69.82 415.95 L73.33 416.47 L76.84 416.73 L80.34 416.73 L83.85 416.73 L87.36 416.73 L90.87 416.73 L94.38 416.73 L101.39 416.99 L108.41 417.65 L115.42 417.65 L136.46 417.91 L199.60 418.30 L234.68 418.30 L248.70 418.30" fill="none" stroke="#b2d7d0" stroke-width="1.40" stroke-linejoin="round"/>
<circle cx="59.30" cy="418.30" r="3.30" fill="#e9f5f1" stroke="#b2d7d0" stroke-width="1.20"/>
<circle cx="66.31" cy="415.68" r="3.30" fill="#e9f5f1" stroke="#b2d7d0" stroke-width="1.20"/>
<circle cx="69.82" cy="415.95" r="3.30" fill="#e9f5f1" stroke="#b2d7d0" stroke-width="1.20"/>
<circle cx="73.33" cy="416.47" r="3.30" fill="#e9f5f1" stroke="#b2d7d0" stroke-width="1.20"/>
<circle cx="76.84" cy="416.73" r="3.30" fill="#e9f5f1" stroke="#b2d7d0" stroke-width="1.20"/>
<circle cx="80.34" cy="416.73" r="3.30" fill="#e9f5f1" stroke="#b2d7d0" stroke-width="1.20"/>
<circle cx="83.85" cy="416.73" r="3.30" fill="#e9f5f1" stroke="#b2d7d0" stroke-width="1.20"/>
<circle cx="87.36" cy="416.73" r="3.30" fill="#e9f5f1" stroke="#b2d7d0" stroke-width="1.20"/>
<circle cx="90.87" cy="416.73" r="3.30" fill="#e9f5f1" stroke="#b2d7d0" stroke-width="1.20"/>
<circle cx="94.38" cy="416.73" r="3.30" fill="#e9f5f1" stroke="#b2d7d0" stroke-width="1.20"/>
<circle cx="101.39" cy="416.99" r="3.30" fill="#e9f5f1" stroke="#b2d7d0" stroke-width="1.20"/>
<circle cx="108.41" cy="417.65" r="3.30" fill="#e9f5f1" stroke="#b2d7d0" stroke-width="1.20"/>
<circle cx="115.42" cy="417.65" r="3.30" fill="#e9f5f1" stroke="#b2d7d0" stroke-width="1.20"/>
<circle cx="136.46" cy="417.91" r="3.30" fill="#e9f5f1" stroke="#b2d7d0" stroke-width="1.20"/>
<circle cx="199.60" cy="418.30" r="3.30" fill="#e9f5f1" stroke="#b2d7d0" stroke-width="1.20"/>
<circle cx="234.68" cy="418.30" r="3.30" fill="#e9f5f1" stroke="#b2d7d0" stroke-width="1.20"/>
<circle cx="248.70" cy="418.30" r="3.30" fill="#e9f5f1" stroke="#b2d7d0" stroke-width="1.20"/>
<path d="M59.30 418.30 L61.05 413.72 L62.81 411.76 L66.31 407.18 L69.82 404.57 L73.33 403.26 L76.84 398.68 L80.34 398.03 L83.85 395.41 L87.36 390.83 L90.87 388.22 L94.38 385.60 L101.39 382.33 L108.41 381.28 L115.42 375.79 L136.46 361.40 L199.60 306.47 L234.68 290.12 L248.70 287.50" fill="none" stroke="#4b809f" stroke-width="1.40" stroke-linejoin="round"/>
<circle cx="59.30" cy="418.30" r="3.30" fill="#e2f1f8" stroke="#4b809f" stroke-width="1.20"/>
<circle cx="61.05" cy="413.72" r="3.30" fill="#e2f1f8" stroke="#4b809f" stroke-width="1.20"/>
<circle cx="62.81" cy="411.76" r="3.30" fill="#e2f1f8" stroke="#4b809f" stroke-width="1.20"/>
<circle cx="66.31" cy="407.18" r="3.30" fill="#e2f1f8" stroke="#4b809f" stroke-width="1.20"/>
<circle cx="69.82" cy="404.57" r="3.30" fill="#e2f1f8" stroke="#4b809f" stroke-width="1.20"/>
<circle cx="73.33" cy="403.26" r="3.30" fill="#e2f1f8" stroke="#4b809f" stroke-width="1.20"/>
<circle cx="76.84" cy="398.68" r="3.30" fill="#e2f1f8" stroke="#4b809f" stroke-width="1.20"/>
<circle cx="80.34" cy="398.03" r="3.30" fill="#e2f1f8" stroke="#4b809f" stroke-width="1.20"/>
<circle cx="83.85" cy="395.41" r="3.30" fill="#e2f1f8" stroke="#4b809f" stroke-width="1.20"/>
<circle cx="87.36" cy="390.83" r="3.30" fill="#e2f1f8" stroke="#4b809f" stroke-width="1.20"/>
<circle cx="90.87" cy="388.22" r="3.30" fill="#e2f1f8" stroke="#4b809f" stroke-width="1.20"/>
<circle cx="94.38" cy="385.60" r="3.30" fill="#e2f1f8" stroke="#4b809f" stroke-width="1.20"/>
<circle cx="101.39" cy="382.33" r="3.30" fill="#e2f1f8" stroke="#4b809f" stroke-width="1.20"/>
<circle cx="108.41" cy="381.28" r="3.30" fill="#e2f1f8" stroke="#4b809f" stroke-width="1.20"/>
<circle cx="115.42" cy="375.79" r="3.30" fill="#e2f1f8" stroke="#4b809f" stroke-width="1.20"/>
<circle cx="136.46" cy="361.40" r="3.30" fill="#e2f1f8" stroke="#4b809f" stroke-width="1.20"/>
<circle cx="199.60" cy="306.47" r="3.30" fill="#e2f1f8" stroke="#4b809f" stroke-width="1.20"/>
<circle cx="234.68" cy="290.12" r="3.30" fill="#e2f1f8" stroke="#4b809f" stroke-width="1.20"/>
<circle cx="248.70" cy="287.50" r="3.30" fill="#e2f1f8" stroke="#4b809f" stroke-width="1.20"/>
<circle cx="108.41" cy="418.30" r="3.30" fill="#e3efec" stroke="#82a09a" stroke-width="1.20"/>
<circle cx="115.42" cy="418.30" r="3.30" fill="#e3efec" stroke="#82a09a" stroke-width="1.20"/>
<line x1="51.10" y1="418.30" x2="54.30" y2="418.30" stroke="#4e4e4e" stroke-width="0.90"/>
<text transform="translate(49.30 421.90) scale(0.950 1)" font-size="10.00" text-anchor="end" fill="#1c1c1c" color="#1c1c1c">0.0</text>
<line x1="52.50" y1="398.68" x2="54.30" y2="398.68" stroke="#4e4e4e" stroke-width="0.90"/>
<line x1="51.10" y1="379.06" x2="54.30" y2="379.06" stroke="#4e4e4e" stroke-width="0.90"/>
<text transform="translate(49.30 382.66) scale(0.950 1)" font-size="10.00" text-anchor="end" fill="#1c1c1c" color="#1c1c1c">0.3</text>
<line x1="52.50" y1="359.44" x2="54.30" y2="359.44" stroke="#4e4e4e" stroke-width="0.90"/>
<line x1="51.10" y1="339.82" x2="54.30" y2="339.82" stroke="#4e4e4e" stroke-width="0.90"/>
<text transform="translate(49.30 343.42) scale(0.950 1)" font-size="10.00" text-anchor="end" fill="#1c1c1c" color="#1c1c1c">0.6</text>
<line x1="52.50" y1="320.20" x2="54.30" y2="320.20" stroke="#4e4e4e" stroke-width="0.90"/>
<line x1="51.10" y1="300.58" x2="54.30" y2="300.58" stroke="#4e4e4e" stroke-width="0.90"/>
<text transform="translate(49.30 304.18) scale(0.950 1)" font-size="10.00" text-anchor="end" fill="#1c1c1c" color="#1c1c1c">0.9</text>
<line x1="52.50" y1="280.96" x2="54.30" y2="280.96" stroke="#4e4e4e" stroke-width="0.90"/>
<line x1="51.10" y1="261.34" x2="54.30" y2="261.34" stroke="#4e4e4e" stroke-width="0.90"/>
<text transform="translate(49.30 264.94) scale(0.950 1)" font-size="10.00" text-anchor="end" fill="#1c1c1c" color="#1c1c1c">1.2</text>
<line x1="59.30" y1="423.10" x2="59.30" y2="426.30" stroke="#4e4e4e" stroke-width="0.90"/>
<text transform="translate(59.30 437.50) scale(0.950 1)" font-size="10.00" text-anchor="middle" fill="#1c1c1c" color="#1c1c1c">0</text>
<line x1="94.38" y1="423.10" x2="94.38" y2="426.30" stroke="#4e4e4e" stroke-width="0.90"/>
<text transform="translate(94.38 437.50) scale(0.950 1)" font-size="10.00" text-anchor="middle" fill="#1c1c1c" color="#1c1c1c">5</text>
<line x1="129.45" y1="423.10" x2="129.45" y2="426.30" stroke="#4e4e4e" stroke-width="0.90"/>
<text transform="translate(129.45 437.50) scale(0.950 1)" font-size="10.00" text-anchor="middle" fill="#1c1c1c" color="#1c1c1c">10</text>
<line x1="164.52" y1="423.10" x2="164.52" y2="426.30" stroke="#4e4e4e" stroke-width="0.90"/>
<text transform="translate(164.52 437.50) scale(0.950 1)" font-size="10.00" text-anchor="middle" fill="#1c1c1c" color="#1c1c1c">15</text>
<line x1="199.60" y1="423.10" x2="199.60" y2="426.30" stroke="#4e4e4e" stroke-width="0.90"/>
<text transform="translate(199.60 437.50) scale(0.950 1)" font-size="10.00" text-anchor="middle" fill="#1c1c1c" color="#1c1c1c">20</text>
<line x1="234.68" y1="423.10" x2="234.68" y2="426.30" stroke="#4e4e4e" stroke-width="0.90"/>
<text transform="translate(234.68 437.50) scale(0.950 1)" font-size="10.00" text-anchor="middle" fill="#1c1c1c" color="#1c1c1c">25</text>
<line x1="76.84" y1="423.10" x2="76.84" y2="424.90" stroke="#4e4e4e" stroke-width="0.90"/>
<line x1="111.91" y1="423.10" x2="111.91" y2="424.90" stroke="#4e4e4e" stroke-width="0.90"/>
<line x1="146.99" y1="423.10" x2="146.99" y2="424.90" stroke="#4e4e4e" stroke-width="0.90"/>
<line x1="182.06" y1="423.10" x2="182.06" y2="424.90" stroke="#4e4e4e" stroke-width="0.90"/>
<line x1="217.14" y1="423.10" x2="217.14" y2="424.90" stroke="#4e4e4e" stroke-width="0.90"/>
<text x="155.00" y="453.00" font-size="11.30" text-anchor="middle" font-weight="normal" fill="#1c1c1c" color="#1c1c1c"><tspan>Time (h)</tspan></text>
<text x="29.00" y="342.60" font-size="11.40" text-anchor="middle" font-weight="normal" fill="#1c1c1c" color="#1c1c1c" transform="rotate(-90.00 29.00 342.60)"><tspan>Content (mmol)</tspan></text>
<text x="268.50" y="256.20" font-size="17.60" text-anchor="start" font-weight="bold" fill="#111" color="#111"><tspan>e</tspan></text>
<rect x="307.30" y="238.30" width="201.00" height="16.20" fill="#fff" stroke="#8a8a8a" stroke-width="0.90"/>
<line x1="309.30" y1="246.60" x2="327.70" y2="246.60" stroke="#4d4d4d" stroke-width="1.30"/>
<circle cx="318.50" cy="246.60" r="3.30" fill="#fbfbfb" stroke="#4d4d4d" stroke-width="1.20"/>
<text x="330.70" y="250.00" font-size="10.50" text-anchor="start" font-weight="normal" fill="#1c1c1c" color="#1c1c1c"><tspan>S</tspan><tspan dy="-4.41" font-size="6.30">2−</tspan></text>
<line x1="350.30" y1="246.60" x2="368.70" y2="246.60" stroke="#e9c792" stroke-width="1.30"/>
<circle cx="359.50" cy="246.60" r="3.30" fill="#fef7ec" stroke="#e9c792" stroke-width="1.20"/>
<text x="371.70" y="250.00" font-size="10.50" text-anchor="start" font-weight="normal" fill="#1c1c1c" color="#1c1c1c"><tspan>S</tspan><tspan dy="3.15" font-size="6.62">2</tspan><tspan dy="-3.15">O</tspan><tspan dy="3.15" font-size="6.62">3</tspan><tspan dy="-7.56" font-size="6.30">2−</tspan></text>
<line x1="407.20" y1="246.60" x2="425.60" y2="246.60" stroke="#b2d7d0" stroke-width="1.30"/>
<circle cx="416.40" cy="246.60" r="3.30" fill="#e9f5f1" stroke="#b2d7d0" stroke-width="1.20"/>
<text x="428.60" y="250.00" font-size="10.50" text-anchor="start" font-weight="normal" fill="#1c1c1c" color="#1c1c1c"><tspan>SO</tspan><tspan dy="3.15" font-size="6.62">3</tspan><tspan dy="-7.56" font-size="6.30">2−</tspan></text>
<line x1="459.30" y1="246.60" x2="477.70" y2="246.60" stroke="#4b809f" stroke-width="1.30"/>
<circle cx="468.50" cy="246.60" r="3.30" fill="#e2f1f8" stroke="#4b809f" stroke-width="1.20"/>
<text x="481.00" y="250.00" font-size="10.50" text-anchor="start" font-weight="normal" fill="#1c1c1c" color="#1c1c1c"><tspan>SO</tspan><tspan dy="3.15" font-size="6.62">4</tspan><tspan dy="-7.56" font-size="6.30">2−</tspan></text>
<rect x="306.50" y="261.20" width="202.60" height="161.90" fill="#fff" stroke="#4e4e4e" stroke-width="1.00"/>
<rect x="318.50" y="264.10" width="183.30" height="18.50" fill="none" stroke="#3a3a3a" stroke-width="0.85" stroke-dasharray="1.7 1.1"/>
<text x="322.40" y="279.60" font-size="9.10" text-anchor="start" font-weight="normal" fill="#1c1c1c" color="#1c1c1c"><tspan>S</tspan><tspan dy="-3.37" font-size="5.64">2−</tspan></text>
<line x1="336.30" y1="276.15" x2="349.40" y2="276.15" stroke="#222" stroke-width="1.00"/>
<path d="M352.90 276.15 L348.90 274.45 L348.90 277.85 Z" fill="#222" stroke="none" stroke-width="1.00"/>
<text x="356.80" y="279.60" font-size="9.10" text-anchor="start" font-weight="normal" fill="#1c1c1c" color="#1c1c1c"><tspan>S</tspan><tspan dy="2.00" font-size="5.64">2</tspan><tspan dy="-2.00">O</tspan><tspan dy="2.00" font-size="5.64">3</tspan><tspan dy="-5.37" font-size="5.64">2−</tspan></text>
<line x1="388.00" y1="276.15" x2="422.20" y2="276.15" stroke="#222" stroke-width="1.00"/>
<path d="M425.70 276.15 L421.70 274.45 L421.70 277.85 Z" fill="#222" stroke="none" stroke-width="1.00"/>
<text x="407.25" y="273.75" font-size="8.30" text-anchor="middle" font-weight="bold" fill="#111" color="#111"><tspan>rapid</tspan></text>
<text x="431.40" y="279.60" font-size="9.10" text-anchor="start" font-weight="normal" fill="#1c1c1c" color="#1c1c1c"><tspan>SO</tspan><tspan dy="2.00" font-size="5.64">3</tspan><tspan dy="-5.37" font-size="5.64">2−</tspan></text>
<line x1="455.50" y1="276.15" x2="468.50" y2="276.15" stroke="#222" stroke-width="1.00"/>
<path d="M472.00 276.15 L468.00 274.45 L468.00 277.85 Z" fill="#222" stroke="none" stroke-width="1.00"/>
<text x="476.90" y="279.60" font-size="9.10" text-anchor="start" font-weight="normal" fill="#1c1c1c" color="#1c1c1c"><tspan>SO</tspan><tspan dy="2.00" font-size="5.64">4</tspan><tspan dy="-5.37" font-size="5.64">2−</tspan></text>
<path d="M311.90 418.30 L323.91 353.22 L335.92 375.00 L359.95 392.06 L383.97 398.23 L408.00 401.77 L432.02 405.84 L456.05 409.12 L504.10 418.30" fill="none" stroke="#e9c792" stroke-width="1.40" stroke-linejoin="round"/>
<circle cx="311.90" cy="418.30" r="3.30" fill="#fef7ec" stroke="#e9c792" stroke-width="1.20"/>
<circle cx="323.91" cy="353.22" r="3.30" fill="#fef7ec" stroke="#e9c792" stroke-width="1.20"/>
<circle cx="335.92" cy="375.00" r="3.30" fill="#fef7ec" stroke="#e9c792" stroke-width="1.20"/>
<circle cx="359.95" cy="392.06" r="3.30" fill="#fef7ec" stroke="#e9c792" stroke-width="1.20"/>
<circle cx="383.97" cy="398.23" r="3.30" fill="#fef7ec" stroke="#e9c792" stroke-width="1.20"/>
<circle cx="408.00" cy="401.77" r="3.30" fill="#fef7ec" stroke="#e9c792" stroke-width="1.20"/>
<circle cx="432.02" cy="405.84" r="3.30" fill="#fef7ec" stroke="#e9c792" stroke-width="1.20"/>
<circle cx="456.05" cy="409.12" r="3.30" fill="#fef7ec" stroke="#e9c792" stroke-width="1.20"/>
<circle cx="504.10" cy="418.30" r="3.30" fill="#fef7ec" stroke="#e9c792" stroke-width="1.20"/>
<path d="M311.90 287.10 L323.91 402.29 L335.92 405.18 L359.95 410.69 L383.97 414.76 L408.00 414.76 L432.02 415.68 L456.05 418.30 L504.10 418.30" fill="none" stroke="#4d4d4d" stroke-width="1.40" stroke-linejoin="round"/>
<circle cx="311.90" cy="287.10" r="3.30" fill="#fbfbfb" stroke="#4d4d4d" stroke-width="1.20"/>
<circle cx="323.91" cy="402.29" r="3.30" fill="#fbfbfb" stroke="#4d4d4d" stroke-width="1.20"/>
<circle cx="335.92" cy="405.18" r="3.30" fill="#fbfbfb" stroke="#4d4d4d" stroke-width="1.20"/>
<circle cx="359.95" cy="410.69" r="3.30" fill="#fbfbfb" stroke="#4d4d4d" stroke-width="1.20"/>
<circle cx="383.97" cy="414.76" r="3.30" fill="#fbfbfb" stroke="#4d4d4d" stroke-width="1.20"/>
<circle cx="408.00" cy="414.76" r="3.30" fill="#fbfbfb" stroke="#4d4d4d" stroke-width="1.20"/>
<circle cx="432.02" cy="415.68" r="3.30" fill="#fbfbfb" stroke="#4d4d4d" stroke-width="1.20"/>
<circle cx="456.05" cy="418.30" r="3.30" fill="#fbfbfb" stroke="#4d4d4d" stroke-width="1.20"/>
<circle cx="504.10" cy="418.30" r="3.30" fill="#fbfbfb" stroke="#4d4d4d" stroke-width="1.20"/>
<path d="M311.90 418.30 L323.91 418.30 L335.92 418.30 L359.95 418.30 L383.97 418.30 L408.00 418.30 L432.02 418.30 L456.05 418.30 L504.10 418.30" fill="none" stroke="#b2d7d0" stroke-width="1.40" stroke-linejoin="round"/>
<circle cx="311.90" cy="418.30" r="3.30" fill="#e9f5f1" stroke="#b2d7d0" stroke-width="1.20"/>
<circle cx="323.91" cy="418.30" r="3.30" fill="#e9f5f1" stroke="#b2d7d0" stroke-width="1.20"/>
<circle cx="335.92" cy="418.30" r="3.30" fill="#e9f5f1" stroke="#b2d7d0" stroke-width="1.20"/>
<circle cx="359.95" cy="418.30" r="3.30" fill="#e9f5f1" stroke="#b2d7d0" stroke-width="1.20"/>
<circle cx="383.97" cy="418.30" r="3.30" fill="#e9f5f1" stroke="#b2d7d0" stroke-width="1.20"/>
<circle cx="408.00" cy="418.30" r="3.30" fill="#e9f5f1" stroke="#b2d7d0" stroke-width="1.20"/>
<circle cx="432.02" cy="418.30" r="3.30" fill="#e9f5f1" stroke="#b2d7d0" stroke-width="1.20"/>
<circle cx="456.05" cy="418.30" r="3.30" fill="#e9f5f1" stroke="#b2d7d0" stroke-width="1.20"/>
<circle cx="504.10" cy="418.30" r="3.30" fill="#e9f5f1" stroke="#b2d7d0" stroke-width="1.20"/>
<path d="M311.90 418.30 L323.91 369.36 L335.92 347.98 L359.95 323.84 L383.97 313.60 L408.00 309.01 L432.02 304.16 L456.05 298.91 L504.10 288.41" fill="none" stroke="#4b809f" stroke-width="1.40" stroke-linejoin="round"/>
<circle cx="311.90" cy="418.30" r="3.30" fill="#e2f1f8" stroke="#4b809f" stroke-width="1.20"/>
<circle cx="323.91" cy="369.36" r="3.30" fill="#e2f1f8" stroke="#4b809f" stroke-width="1.20"/>
<circle cx="335.92" cy="347.98" r="3.30" fill="#e2f1f8" stroke="#4b809f" stroke-width="1.20"/>
<circle cx="359.95" cy="323.84" r="3.30" fill="#e2f1f8" stroke="#4b809f" stroke-width="1.20"/>
<circle cx="383.97" cy="313.60" r="3.30" fill="#e2f1f8" stroke="#4b809f" stroke-width="1.20"/>
<circle cx="408.00" cy="309.01" r="3.30" fill="#e2f1f8" stroke="#4b809f" stroke-width="1.20"/>
<circle cx="432.02" cy="304.16" r="3.30" fill="#e2f1f8" stroke="#4b809f" stroke-width="1.20"/>
<circle cx="456.05" cy="298.91" r="3.30" fill="#e2f1f8" stroke="#4b809f" stroke-width="1.20"/>
<circle cx="504.10" cy="288.41" r="3.30" fill="#e2f1f8" stroke="#4b809f" stroke-width="1.20"/>
<line x1="303.30" y1="418.30" x2="306.50" y2="418.30" stroke="#4e4e4e" stroke-width="0.90"/>
<text transform="translate(301.50 421.90) scale(0.950 1)" font-size="10.00" text-anchor="end" fill="#1c1c1c" color="#1c1c1c">0.0</text>
<line x1="304.70" y1="398.62" x2="306.50" y2="398.62" stroke="#4e4e4e" stroke-width="0.90"/>
<line x1="303.30" y1="378.94" x2="306.50" y2="378.94" stroke="#4e4e4e" stroke-width="0.90"/>
<text transform="translate(301.50 382.54) scale(0.950 1)" font-size="10.00" text-anchor="end" fill="#1c1c1c" color="#1c1c1c">0.3</text>
<line x1="304.70" y1="359.26" x2="306.50" y2="359.26" stroke="#4e4e4e" stroke-width="0.90"/>
<line x1="303.30" y1="339.58" x2="306.50" y2="339.58" stroke="#4e4e4e" stroke-width="0.90"/>
<text transform="translate(301.50 343.18) scale(0.950 1)" font-size="10.00" text-anchor="end" fill="#1c1c1c" color="#1c1c1c">0.6</text>
<line x1="304.70" y1="319.90" x2="306.50" y2="319.90" stroke="#4e4e4e" stroke-width="0.90"/>
<line x1="303.30" y1="300.22" x2="306.50" y2="300.22" stroke="#4e4e4e" stroke-width="0.90"/>
<text transform="translate(301.50 303.82) scale(0.950 1)" font-size="10.00" text-anchor="end" fill="#1c1c1c" color="#1c1c1c">0.9</text>
<line x1="304.70" y1="280.54" x2="306.50" y2="280.54" stroke="#4e4e4e" stroke-width="0.90"/>
<line x1="303.30" y1="260.86" x2="306.50" y2="260.86" stroke="#4e4e4e" stroke-width="0.90"/>
<text transform="translate(301.50 264.46) scale(0.950 1)" font-size="10.00" text-anchor="end" fill="#1c1c1c" color="#1c1c1c">1.2</text>
<line x1="311.90" y1="423.10" x2="311.90" y2="426.30" stroke="#4e4e4e" stroke-width="0.90"/>
<text transform="translate(311.90 437.50) scale(0.950 1)" font-size="10.00" text-anchor="middle" fill="#1c1c1c" color="#1c1c1c">0</text>
<line x1="359.95" y1="423.10" x2="359.95" y2="426.30" stroke="#4e4e4e" stroke-width="0.90"/>
<text transform="translate(359.95 437.50) scale(0.950 1)" font-size="10.00" text-anchor="middle" fill="#1c1c1c" color="#1c1c1c">1</text>
<line x1="408.00" y1="423.10" x2="408.00" y2="426.30" stroke="#4e4e4e" stroke-width="0.90"/>
<text transform="translate(408.00 437.50) scale(0.950 1)" font-size="10.00" text-anchor="middle" fill="#1c1c1c" color="#1c1c1c">2</text>
<line x1="456.05" y1="423.10" x2="456.05" y2="426.30" stroke="#4e4e4e" stroke-width="0.90"/>
<text transform="translate(456.05 437.50) scale(0.950 1)" font-size="10.00" text-anchor="middle" fill="#1c1c1c" color="#1c1c1c">3</text>
<line x1="504.10" y1="423.10" x2="504.10" y2="426.30" stroke="#4e4e4e" stroke-width="0.90"/>
<text transform="translate(504.10 437.50) scale(0.950 1)" font-size="10.00" text-anchor="middle" fill="#1c1c1c" color="#1c1c1c">4</text>
<line x1="335.92" y1="423.10" x2="335.92" y2="424.90" stroke="#4e4e4e" stroke-width="0.90"/>
<line x1="383.97" y1="423.10" x2="383.97" y2="424.90" stroke="#4e4e4e" stroke-width="0.90"/>
<line x1="432.02" y1="423.10" x2="432.02" y2="424.90" stroke="#4e4e4e" stroke-width="0.90"/>
<line x1="480.07" y1="423.10" x2="480.07" y2="424.90" stroke="#4e4e4e" stroke-width="0.90"/>
<text x="407.50" y="453.00" font-size="11.30" text-anchor="middle" font-weight="normal" fill="#1c1c1c" color="#1c1c1c"><tspan>Time (h)</tspan></text>
<text x="281.70" y="342.60" font-size="11.40" text-anchor="middle" font-weight="normal" fill="#1c1c1c" color="#1c1c1c" transform="rotate(-90.00 281.70 342.60)"><tspan>Content (mmol)</tspan></text>
<text x="543.50" y="255.60" font-size="17.60" text-anchor="start" font-weight="bold" fill="#111" color="#111"><tspan>f</tspan></text>
<rect x="578.20" y="239.00" width="203.30" height="16.50" fill="#fff" stroke="#8a8a8a" stroke-width="0.90"/>
<line x1="580.50" y1="247.45" x2="598.90" y2="247.45" stroke="#4d4d4d" stroke-width="1.30"/>
<circle cx="589.70" cy="247.45" r="3.30" fill="#fbfbfb" stroke="#4d4d4d" stroke-width="1.20"/>
<text x="601.00" y="250.85" font-size="10.50" text-anchor="start" font-weight="normal" fill="#1c1c1c" color="#1c1c1c"><tspan>S</tspan><tspan dy="-4.41" font-size="6.30">2−</tspan></text>
<line x1="621.00" y1="247.45" x2="639.40" y2="247.45" stroke="#e9c792" stroke-width="1.30"/>
<circle cx="630.20" cy="247.45" r="3.30" fill="#fef7ec" stroke="#e9c792" stroke-width="1.20"/>
<text x="642.40" y="250.85" font-size="10.50" text-anchor="start" font-weight="normal" fill="#1c1c1c" color="#1c1c1c"><tspan>S</tspan><tspan dy="3.15" font-size="6.62">2</tspan><tspan dy="-3.15">O</tspan><tspan dy="3.15" font-size="6.62">3</tspan><tspan dy="-7.56" font-size="6.30">2−</tspan></text>
<line x1="677.80" y1="247.45" x2="696.20" y2="247.45" stroke="#b2d7d0" stroke-width="1.30"/>
<circle cx="687.00" cy="247.45" r="3.30" fill="#e9f5f1" stroke="#b2d7d0" stroke-width="1.20"/>
<text x="699.20" y="250.85" font-size="10.50" text-anchor="start" font-weight="normal" fill="#1c1c1c" color="#1c1c1c"><tspan>SO</tspan><tspan dy="3.15" font-size="6.62">3</tspan><tspan dy="-7.56" font-size="6.30">2−</tspan></text>
<line x1="730.00" y1="247.45" x2="748.40" y2="247.45" stroke="#4b809f" stroke-width="1.30"/>
<circle cx="739.20" cy="247.45" r="3.30" fill="#e2f1f8" stroke="#4b809f" stroke-width="1.20"/>
<text x="751.80" y="250.85" font-size="10.50" text-anchor="start" font-weight="normal" fill="#1c1c1c" color="#1c1c1c"><tspan>SO</tspan><tspan dy="3.15" font-size="6.62">4</tspan><tspan dy="-7.56" font-size="6.30">2−</tspan></text>
<rect x="577.00" y="261.20" width="202.40" height="161.90" fill="#fff" stroke="#4e4e4e" stroke-width="1.00"/>
<rect x="588.80" y="264.10" width="183.50" height="18.50" fill="none" stroke="#3a3a3a" stroke-width="0.85" stroke-dasharray="1.7 1.1"/>
<text x="593.00" y="279.60" font-size="9.10" text-anchor="start" font-weight="normal" fill="#1c1c1c" color="#1c1c1c"><tspan>S</tspan><tspan dy="-3.37" font-size="5.64">2−</tspan></text>
<line x1="606.30" y1="276.15" x2="621.90" y2="276.15" stroke="#222" stroke-width="1.00"/>
<path d="M625.40 276.15 L621.40 274.45 L621.40 277.85 Z" fill="#222" stroke="none" stroke-width="1.00"/>
<text x="627.70" y="279.60" font-size="9.10" text-anchor="start" font-weight="normal" fill="#1c1c1c" color="#1c1c1c"><tspan>S</tspan><tspan dy="2.00" font-size="5.64">2</tspan><tspan dy="-2.00">O</tspan><tspan dy="2.00" font-size="5.64">3</tspan><tspan dy="-5.37" font-size="5.64">2−</tspan></text>
<line x1="655.50" y1="276.15" x2="694.60" y2="276.15" stroke="#222" stroke-width="1.00"/>
<path d="M698.10 276.15 L694.10 274.45 L694.10 277.85 Z" fill="#222" stroke="none" stroke-width="1.00"/>
<text x="674.50" y="273.75" font-size="8.30" text-anchor="middle" font-weight="bold" fill="#111" color="#111"><tspan>rapid</tspan></text>
<text x="701.80" y="279.60" font-size="9.10" text-anchor="start" font-weight="normal" fill="#1c1c1c" color="#1c1c1c"><tspan>SO</tspan><tspan dy="2.00" font-size="5.64">3</tspan><tspan dy="-5.37" font-size="5.64">2−</tspan></text>
<line x1="724.50" y1="276.15" x2="741.10" y2="276.15" stroke="#222" stroke-width="1.00"/>
<path d="M744.60 276.15 L740.60 274.45 L740.60 277.85 Z" fill="#222" stroke="none" stroke-width="1.00"/>
<text x="747.10" y="279.60" font-size="9.10" text-anchor="start" font-weight="normal" fill="#1c1c1c" color="#1c1c1c"><tspan>SO</tspan><tspan dy="2.00" font-size="5.64">4</tspan><tspan dy="-5.37" font-size="5.64">2−</tspan></text>
<path d="M583.80 417.50 L615.38 417.50 L646.95 417.50 L710.10 417.50 L773.25 417.50" fill="none" stroke="#e9c792" stroke-width="1.40" stroke-linejoin="round"/>
<circle cx="583.80" cy="417.50" r="3.30" fill="#fef7ec" stroke="#e9c792" stroke-width="1.20"/>
<circle cx="615.38" cy="417.50" r="3.30" fill="#fef7ec" stroke="#e9c792" stroke-width="1.20"/>
<circle cx="646.95" cy="417.50" r="3.30" fill="#fef7ec" stroke="#e9c792" stroke-width="1.20"/>
<circle cx="710.10" cy="417.50" r="3.30" fill="#fef7ec" stroke="#e9c792" stroke-width="1.20"/>
<circle cx="773.25" cy="417.50" r="3.30" fill="#fef7ec" stroke="#e9c792" stroke-width="1.20"/>
<path d="M583.80 286.90 L615.38 403.13 L646.95 413.84 L710.10 417.50 L773.25 417.50" fill="none" stroke="#4d4d4d" stroke-width="1.40" stroke-linejoin="round"/>
<circle cx="583.80" cy="286.90" r="3.30" fill="#fbfbfb" stroke="#4d4d4d" stroke-width="1.20"/>
<circle cx="615.38" cy="403.13" r="3.30" fill="#fbfbfb" stroke="#4d4d4d" stroke-width="1.20"/>
<circle cx="646.95" cy="413.84" r="3.30" fill="#fbfbfb" stroke="#4d4d4d" stroke-width="1.20"/>
<circle cx="710.10" cy="417.50" r="3.30" fill="#fbfbfb" stroke="#4d4d4d" stroke-width="1.20"/>
<circle cx="773.25" cy="417.50" r="3.30" fill="#fbfbfb" stroke="#4d4d4d" stroke-width="1.20"/>
<path d="M583.80 417.50 L615.38 417.50 L646.95 417.50 L710.10 417.50 L773.25 417.50" fill="none" stroke="#b2d7d0" stroke-width="1.40" stroke-linejoin="round"/>
<circle cx="583.80" cy="417.50" r="3.30" fill="#e9f5f1" stroke="#b2d7d0" stroke-width="1.20"/>
<circle cx="615.38" cy="417.50" r="3.30" fill="#e9f5f1" stroke="#b2d7d0" stroke-width="1.20"/>
<circle cx="646.95" cy="417.50" r="3.30" fill="#e9f5f1" stroke="#b2d7d0" stroke-width="1.20"/>
<circle cx="710.10" cy="417.50" r="3.30" fill="#e9f5f1" stroke="#b2d7d0" stroke-width="1.20"/>
<circle cx="773.25" cy="417.50" r="3.30" fill="#e9f5f1" stroke="#b2d7d0" stroke-width="1.20"/>
<path d="M583.80 417.50 L615.38 299.96 L646.95 290.56 L710.10 289.51 L773.25 290.56" fill="none" stroke="#4b809f" stroke-width="1.40" stroke-linejoin="round"/>
<circle cx="583.80" cy="417.50" r="3.30" fill="#e2f1f8" stroke="#4b809f" stroke-width="1.20"/>
<circle cx="615.38" cy="299.96" r="3.30" fill="#e2f1f8" stroke="#4b809f" stroke-width="1.20"/>
<circle cx="646.95" cy="290.56" r="3.30" fill="#e2f1f8" stroke="#4b809f" stroke-width="1.20"/>
<circle cx="710.10" cy="289.51" r="3.30" fill="#e2f1f8" stroke="#4b809f" stroke-width="1.20"/>
<circle cx="773.25" cy="290.56" r="3.30" fill="#e2f1f8" stroke="#4b809f" stroke-width="1.20"/>
<line x1="573.80" y1="417.50" x2="577.00" y2="417.50" stroke="#4e4e4e" stroke-width="0.90"/>
<text transform="translate(572.00 421.10) scale(0.950 1)" font-size="10.00" text-anchor="end" fill="#1c1c1c" color="#1c1c1c">0.0</text>
<line x1="575.20" y1="397.91" x2="577.00" y2="397.91" stroke="#4e4e4e" stroke-width="0.90"/>
<line x1="573.80" y1="378.32" x2="577.00" y2="378.32" stroke="#4e4e4e" stroke-width="0.90"/>
<text transform="translate(572.00 381.92) scale(0.950 1)" font-size="10.00" text-anchor="end" fill="#1c1c1c" color="#1c1c1c">0.3</text>
<line x1="575.20" y1="358.73" x2="577.00" y2="358.73" stroke="#4e4e4e" stroke-width="0.90"/>
<line x1="573.80" y1="339.14" x2="577.00" y2="339.14" stroke="#4e4e4e" stroke-width="0.90"/>
<text transform="translate(572.00 342.74) scale(0.950 1)" font-size="10.00" text-anchor="end" fill="#1c1c1c" color="#1c1c1c">0.6</text>
<line x1="575.20" y1="319.55" x2="577.00" y2="319.55" stroke="#4e4e4e" stroke-width="0.90"/>
<line x1="573.80" y1="299.96" x2="577.00" y2="299.96" stroke="#4e4e4e" stroke-width="0.90"/>
<text transform="translate(572.00 303.56) scale(0.950 1)" font-size="10.00" text-anchor="end" fill="#1c1c1c" color="#1c1c1c">0.9</text>
<line x1="575.20" y1="280.37" x2="577.00" y2="280.37" stroke="#4e4e4e" stroke-width="0.90"/>
<line x1="573.80" y1="260.78" x2="577.00" y2="260.78" stroke="#4e4e4e" stroke-width="0.90"/>
<text transform="translate(572.00 264.38) scale(0.950 1)" font-size="10.00" text-anchor="end" fill="#1c1c1c" color="#1c1c1c">1.2</text>
<line x1="583.80" y1="423.10" x2="583.80" y2="426.30" stroke="#4e4e4e" stroke-width="0.90"/>
<text transform="translate(583.80 437.50) scale(0.950 1)" font-size="10.00" text-anchor="middle" fill="#1c1c1c" color="#1c1c1c">0.0</text>
<line x1="646.95" y1="423.10" x2="646.95" y2="426.30" stroke="#4e4e4e" stroke-width="0.90"/>
<text transform="translate(646.95 437.50) scale(0.950 1)" font-size="10.00" text-anchor="middle" fill="#1c1c1c" color="#1c1c1c">0.5</text>
<line x1="710.10" y1="423.10" x2="710.10" y2="426.30" stroke="#4e4e4e" stroke-width="0.90"/>
<text transform="translate(710.10 437.50) scale(0.950 1)" font-size="10.00" text-anchor="middle" fill="#1c1c1c" color="#1c1c1c">1.0</text>
<line x1="773.25" y1="423.10" x2="773.25" y2="426.30" stroke="#4e4e4e" stroke-width="0.90"/>
<text transform="translate(773.25 437.50) scale(0.950 1)" font-size="10.00" text-anchor="middle" fill="#1c1c1c" color="#1c1c1c">1.5</text>
<line x1="615.38" y1="423.10" x2="615.38" y2="424.90" stroke="#4e4e4e" stroke-width="0.90"/>
<line x1="678.52" y1="423.10" x2="678.52" y2="424.90" stroke="#4e4e4e" stroke-width="0.90"/>
<line x1="741.67" y1="423.10" x2="741.67" y2="424.90" stroke="#4e4e4e" stroke-width="0.90"/>
<text x="677.60" y="453.00" font-size="11.30" text-anchor="middle" font-weight="normal" fill="#1c1c1c" color="#1c1c1c"><tspan>Time (h)</tspan></text>
<text x="552.50" y="342.60" font-size="11.40" text-anchor="middle" font-weight="normal" fill="#1c1c1c" color="#1c1c1c" transform="rotate(-90.00 552.50 342.60)"><tspan>Content (mmol)</tspan></text>
<defs><linearGradient id="gg" x1="0" y1="0" x2="1" y2="0"><stop offset="0" stop-color="#ffffff"/><stop offset="0.075" stop-color="#f2fafd"/><stop offset="0.185" stop-color="#e3f3fa"/><stop offset="0.30" stop-color="#d7eff8"/><stop offset="0.42" stop-color="#cfedf6"/><stop offset="0.5" stop-color="#cbedf5"/><stop offset="0.75" stop-color="#bfe8f4"/><stop offset="1" stop-color="#b3e4f2"/></linearGradient></defs>
<rect x="45.30" y="465.70" width="730.60" height="92.00" fill="url(#gg)" stroke="none" stroke-width="1.00"/>
<rect x="45.30" y="557.00" width="730.60" height="23.70" fill="#6e6d6b" stroke="none" stroke-width="1.00"/>
<text x="19.30" y="487.00" font-size="17.60" text-anchor="start" font-weight="bold" fill="#111" color="#111"><tspan>g</tspan></text>
<text x="57.30" y="532.90" font-size="14.00" text-anchor="start" font-weight="normal" fill="#1c1c1c" color="#1c1c1c"><tspan>H</tspan><tspan dy="3.22" font-size="8.96">2</tspan><tspan dy="-3.22">S</tspan></text>
<text x="177.40" y="532.90" font-size="14.00" text-anchor="start" font-weight="normal" fill="#1c1c1c" color="#1c1c1c"><tspan>S</tspan><tspan dy="-4.20" font-size="8.96">2−</tspan></text>
<text x="316.60" y="532.90" font-size="14.00" text-anchor="start" font-weight="normal" fill="#1c1c1c" color="#1c1c1c"><tspan>S</tspan><tspan dy="3.22" font-size="8.96">2</tspan><tspan dy="-3.22">O</tspan><tspan dy="3.22" font-size="8.96">3</tspan><tspan dy="-7.42" font-size="8.96">2−</tspan></text>
<text x="574.50" y="532.90" font-size="14.00" text-anchor="start" font-weight="normal" fill="#1c1c1c" color="#1c1c1c"><tspan>SO</tspan><tspan dy="3.22" font-size="8.96">3</tspan><tspan dy="-7.42" font-size="8.96">2−</tspan></text>
<text x="730.10" y="532.90" font-size="14.00" text-anchor="start" font-weight="normal" fill="#1c1c1c" color="#1c1c1c"><tspan>SO</tspan><tspan dy="3.22" font-size="8.96">4</tspan><tspan dy="-7.42" font-size="8.96">2−</tspan></text>
<line x1="90.90" y1="527.60" x2="162.50" y2="527.60" stroke="#1e1e1e" stroke-width="1.20"/>
<path d="M166.00 527.60 L162.00 526.00 L162.00 529.20 Z" fill="#1e1e1e" stroke="none" stroke-width="1.00"/>
<line x1="209.30" y1="527.60" x2="301.80" y2="527.60" stroke="#1e1e1e" stroke-width="1.20"/>
<path d="M305.30 527.60 L301.30 526.00 L301.30 529.20 Z" fill="#1e1e1e" stroke="none" stroke-width="1.00"/>
<line x1="367.40" y1="527.60" x2="557.10" y2="527.60" stroke="#1e1e1e" stroke-width="1.20"/>
<path d="M560.60 527.60 L556.60 526.00 L556.60 529.20 Z" fill="#1e1e1e" stroke="none" stroke-width="1.00"/>
<line x1="621.60" y1="527.60" x2="715.10" y2="527.60" stroke="#1e1e1e" stroke-width="1.20"/>
<path d="M718.60 527.60 L714.60 526.00 L714.60 529.20 Z" fill="#1e1e1e" stroke="none" stroke-width="1.00"/>
<text x="127.20" y="519.70" font-size="11.80" text-anchor="middle" font-weight="normal" fill="#1c1c1c" color="#1c1c1c"><tspan>+2OH</tspan><tspan dy="-4.13" font-size="7.79">−</tspan></text>
<text x="262.00" y="519.70" font-size="11.80" text-anchor="middle" font-weight="normal" fill="#1c1c1c" color="#1c1c1c"><tspan>+4OH</tspan><tspan dy="-4.13" font-size="7.79">−</tspan><tspan dy="4.13">, -4e</tspan><tspan dy="-4.13" font-size="7.79">−</tspan></text>
<text x="465.00" y="519.70" font-size="11.80" text-anchor="middle" font-weight="normal" fill="#1c1c1c" color="#1c1c1c"><tspan>+2OH</tspan><tspan dy="-4.13" font-size="7.79">−</tspan><tspan dy="4.13">, -2e</tspan><tspan dy="-4.13" font-size="7.79">−</tspan></text>
<text x="671.00" y="519.70" font-size="11.80" text-anchor="middle" font-weight="normal" fill="#1c1c1c" color="#1c1c1c"><tspan>-2e</tspan><tspan dy="-4.13" font-size="7.79">−</tspan></text>
<text x="462.10" y="545.20" font-size="12.10" text-anchor="middle" font-weight="normal" fill="#1c1c1c" color="#1c1c1c"><tspan>Limited by low H</tspan><tspan dy="2.90" font-size="7.99">2</tspan><tspan dy="-2.90">O</tspan><tspan dy="2.90" font-size="7.99">2</tspan><tspan dy="-2.90"> concentration</tspan></text>
<text x="211.20" y="494.80" font-size="12.00" text-anchor="middle" font-weight="normal" fill="#1c1c1c" color="#1c1c1c"><tspan>H</tspan><tspan dy="2.88" font-size="7.92">2</tspan><tspan dy="-2.88">O</tspan><tspan dy="2.88" font-size="7.92">2</tspan></text>
<text x="303.80" y="494.80" font-size="12.00" text-anchor="middle" font-weight="normal" fill="#1c1c1c" color="#1c1c1c"><tspan>H</tspan><tspan dy="2.88" font-size="7.92">2</tspan><tspan dy="-2.88">O</tspan></text>
<path d="M212.80 500.50 C213.80 514.50 223.20 527.60 238.20 527.60" fill="none" stroke="#1e1e1e" stroke-width="1.2"/>
<path d="M276.80 527.60 C292.80 527.60 301.60 518.00 303.80 505.00" fill="none" stroke="#1e1e1e" stroke-width="1.2"/>
<path d="M304.30 501.20 L302.10 505.60 L305.50 506.00 Z" fill="#222" stroke="none" stroke-width="1.00"/>
<text x="386.80" y="494.80" font-size="12.00" text-anchor="middle" font-weight="normal" fill="#1c1c1c" color="#1c1c1c"><tspan>H</tspan><tspan dy="2.88" font-size="7.92">2</tspan><tspan dy="-2.88">O</tspan><tspan dy="2.88" font-size="7.92">2</tspan></text>
<text x="544.80" y="494.80" font-size="12.00" text-anchor="middle" font-weight="normal" fill="#1c1c1c" color="#1c1c1c"><tspan>H</tspan><tspan dy="2.88" font-size="7.92">2</tspan><tspan dy="-2.88">O</tspan></text>
<path d="M388.40 500.50 C389.40 514.50 398.80 527.60 413.80 527.60" fill="none" stroke="#1e1e1e" stroke-width="1.2"/>
<path d="M517.80 527.60 C533.80 527.60 542.60 518.00 544.80 505.00" fill="none" stroke="#1e1e1e" stroke-width="1.2"/>
<path d="M545.30 501.20 L543.10 505.60 L546.50 506.00 Z" fill="#222" stroke="none" stroke-width="1.00"/>
<text x="623.70" y="494.80" font-size="12.00" text-anchor="middle" font-weight="normal" fill="#1c1c1c" color="#1c1c1c"><tspan>H</tspan><tspan dy="2.88" font-size="7.92">2</tspan><tspan dy="-2.88">O</tspan><tspan dy="2.88" font-size="7.92">2</tspan></text>
<text x="712.20" y="494.80" font-size="12.00" text-anchor="middle" font-weight="normal" fill="#1c1c1c" color="#1c1c1c"><tspan>H</tspan><tspan dy="2.88" font-size="7.92">2</tspan><tspan dy="-2.88">O</tspan></text>
<path d="M625.30 500.50 C626.30 514.50 635.70 527.60 650.70 527.60" fill="none" stroke="#1e1e1e" stroke-width="1.2"/>
<path d="M685.20 527.60 C701.20 527.60 710.00 518.00 712.20 505.00" fill="none" stroke="#1e1e1e" stroke-width="1.2"/>
<path d="M712.70 501.20 L710.50 505.60 L713.90 506.00 Z" fill="#222" stroke="none" stroke-width="1.00"/>
<text x="410.30" y="574.70" font-size="15.20" text-anchor="middle" font-weight="normal" fill="#ededed" color="#ededed"><tspan>H</tspan><tspan dy="3.65" font-size="10.03">2</tspan><tspan dy="-3.65">O</tspan><tspan dy="3.65" font-size="10.03">2</tspan><tspan dy="-3.65">-mediated  H</tspan><tspan dy="3.65" font-size="10.03">2</tspan><tspan dy="-3.65">S  stepwise  oxidation  reaction</tspan></text>
<text transform="translate(775.7 575.7) scale(1 0.855)" x="0" y="0" font-size="26.5" text-anchor="end" fill="#ffffff" stroke="none" style="stroke:none" class="cjk" font-family="'Liberation Sans','Noto Sans CJK SC',sans-serif" font-weight="500">上海谓</text>
</svg>
</body>
</html>
